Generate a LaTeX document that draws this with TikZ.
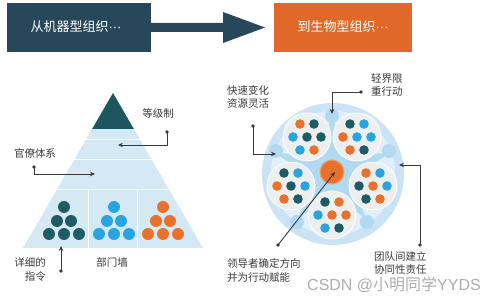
\documentclass[tikz,border=0pt]{standalone}
\usepackage{fontspec}
\setmainfont{Noto Sans CJK SC}
\newfontfamily\wmfont{Liberation Sans}
\newfontfamily\wmcjk{Noto Sans CJK SC}
\usetikzlibrary{arrows.meta,calc}
\definecolor{navy}{HTML}{27475A}
\definecolor{orng}{HTML}{E0692A}
\definecolor{cdk}{HTML}{1F5B65}
\definecolor{cbl}{HTML}{2AA4DE}
\definecolor{cor}{HTML}{E8712B}
\definecolor{pyr}{HTML}{D5E9F5}
\definecolor{ringc}{HTML}{CBE4F5}
\definecolor{innerc}{HTML}{E0EFF9}
\definecolor{starc}{HTML}{B2D9F2}
\definecolor{subc}{HTML}{EDEFEF}
\definecolor{txt}{HTML}{3A3A3A}
\newcommand\grp[8]{%
  \begin{scope}[shift={(#1)}]
    \fill[subc,draw=white,line width=0.8pt] (0,0) circle (24);
    \fill[#2] (-7,-13) circle (4.8);
    \fill[#3] (7,-13) circle (4.8);
    \fill[#4] (-14,0) circle (4.8);
    \fill[#5] (0,0) circle (4.8);
    \fill[#6] (14,0) circle (4.8);
    \fill[#7] (-7,13) circle (4.8);
    \fill[#8] (7,13) circle (4.8);
  \end{scope}}
\begin{document}
\begin{tikzpicture}[x=1pt,y=-1pt,
  lbl/.style={text=txt,font=\fontsize{10.5}{13.5}\selectfont,inner sep=0pt},
  banner/.style={text=white,font=\fontsize{13}{15}\selectfont,inner sep=0pt},
  lead/.style={draw=txt,line width=0.9pt,-{Stealth[length=5pt,width=4.5pt]}},
  dotc/.style={fill=txt}]
\useasboundingbox (0,0) rectangle (499,299);
\fill[white] (0,0) rectangle (499,299);

% banner
\fill[navy] (7,3) rectangle (151,52);
\node[banner] (from) at (76,27) {从机器型组织{\wmfont ···}};
\fill[navy] (150,23) -- (223,23) -- (223,12) -- (265,27.5) -- (223,43) -- (223,32) -- (150,32) -- cycle;
\fill[orng] (274,3) rectangle (412,52);
\node[banner] (to) at (343,27) {到生物型组织{\wmfont ···}};

% pyramid
\fill[pyr] (92.1,129) -- (133.9,129) -- (203,248) -- (23,248) -- cycle;
\fill[cdk!95!black] (113,93) -- (133.9,129) -- (92.1,129) -- cycle;
\begin{scope}[white,line width=0.9pt]
  \draw (85,139) -- (141,139);
  \draw (73,159) -- (153,159);
  \draw (55,189) -- (171,189);
  \draw (88,189) -- (88,248);
  \draw (137,189) -- (137,248);
\end{scope}
% dot triangles
\foreach \c/\x in {cdk/64,cbl/114,cor/163}{
  \fill[\c] (\x,207) circle (6);
  \fill[\c] (\x-7,221) circle (6);
  \fill[\c] (\x+7,221) circle (6);
  \fill[\c] (\x-15,234) circle (6);
  \fill[\c] (\x,234) circle (6);
  \fill[\c] (\x+15,234) circle (6);
}

% pyramid labels
\node[lbl] (l1) at (158,113) {等级制};
\coordinate (d1) at (167,132);
\coordinate (t1) at (118,145);
\fill[dotc] (d1) circle (1.8);
\draw[lead] (d1) |- (t1);

\node[lbl] (l2) at (35,153) {官僚体系};
\coordinate (d2) at (34,167);
\coordinate (t2) at (95,174);
\fill[dotc] (d2) circle (1.8);
\draw[lead] (d2) |- (t2);

\node[lbl,align=right,anchor=east] (l3) at (46,269.5) {详细的\\指令};
\coordinate (d3) at (61,271);
\coordinate (t3) at (61,246);
\fill[dotc] (d3) circle (1.8);
\draw[lead] (d3) -- (t3);

\node[lbl] (l4) at (112,262) {部门墙};

% organic circle
\coordinate (cc) at (332,172);
\fill[ringc] (333,174) circle (71);
\fill[innerc] (333,173) circle (62);
\fill[starc]
  (332,114) -- ($(cc)+(-54:20)$) -- (390,153) -- ($(cc)+(18:20)$)
  -- (366,219) -- ($(cc)+(90:20)$) -- (298,219) -- ($(cc)+(162:20)$)
  -- (275,153) -- ($(cc)+(-126:20)$) -- cycle;
\foreach \p in {(332,116),(276,151),(389,151),(297,222),(367,222)}
  \fill[starc] \p circle (7);

\grp{307,137}{cor}{cdk}{cbl}{cdk}{cdk}{cbl}{cor}
\grp{357,137}{cdk}{cbl}{cor}{cbl}{cbl}{cor}{cdk}
\grp{373,186}{cor}{cbl}{cdk}{cor}{cbl}{cdk}{cor}
\grp{332,215}{cdk}{cor}{cbl}{cor}{cor}{cbl}{cdk}
\grp{291,186}{cdk}{cbl}{cor}{cdk}{cbl}{cor}{cdk}

\fill[cor,draw=cor!70!white,line width=1pt] (cc) circle (12);

% right labels
\node[lbl,align=left,anchor=west] (r1) at (227,97) {快速变化\\资源灵活};
\coordinate (d5) at (253,126);
\coordinate (t5) at (276,154);
\fill[dotc] (d5) circle (1.8);
\draw[lead] (d5) |- (t5);

\node[lbl,align=left,anchor=west] (r2) at (371,85) {轻界限\\重行动};
\coordinate (d6) at (361,92);
\coordinate (t6) at (332,114);
\fill[dotc] (d6) circle (1.8);
\draw[lead] (d6) -| (t6);

\node[lbl,align=left,anchor=west] (r3) at (374,263) {团队间建立\\协同性责任};
\coordinate (d7) at (420,245);
\coordinate (t7) at (399,165);
\fill[dotc] (d7) circle (1.8);
\draw[lead] (d7) |- (t7);

\node[lbl,align=left,anchor=west] (r4) at (227,270.5) {领导者确定方向\\并为行动赋能};
\coordinate (d8) at (278,245);
\coordinate (t8) at (335,172);
\fill[dotc] (d8) circle (1.8);
\draw[lead] (d8) -- (t8);

% watermark
\node[inner sep=0pt,text=black!40,opacity=0.8,anchor=west,font=\fontsize{16}{18}\selectfont] (wm) at (307,285) {\wmfont CSDN @\wmcjk 小明同学\wmfont YYDS};
\end{tikzpicture}
\end{document}
